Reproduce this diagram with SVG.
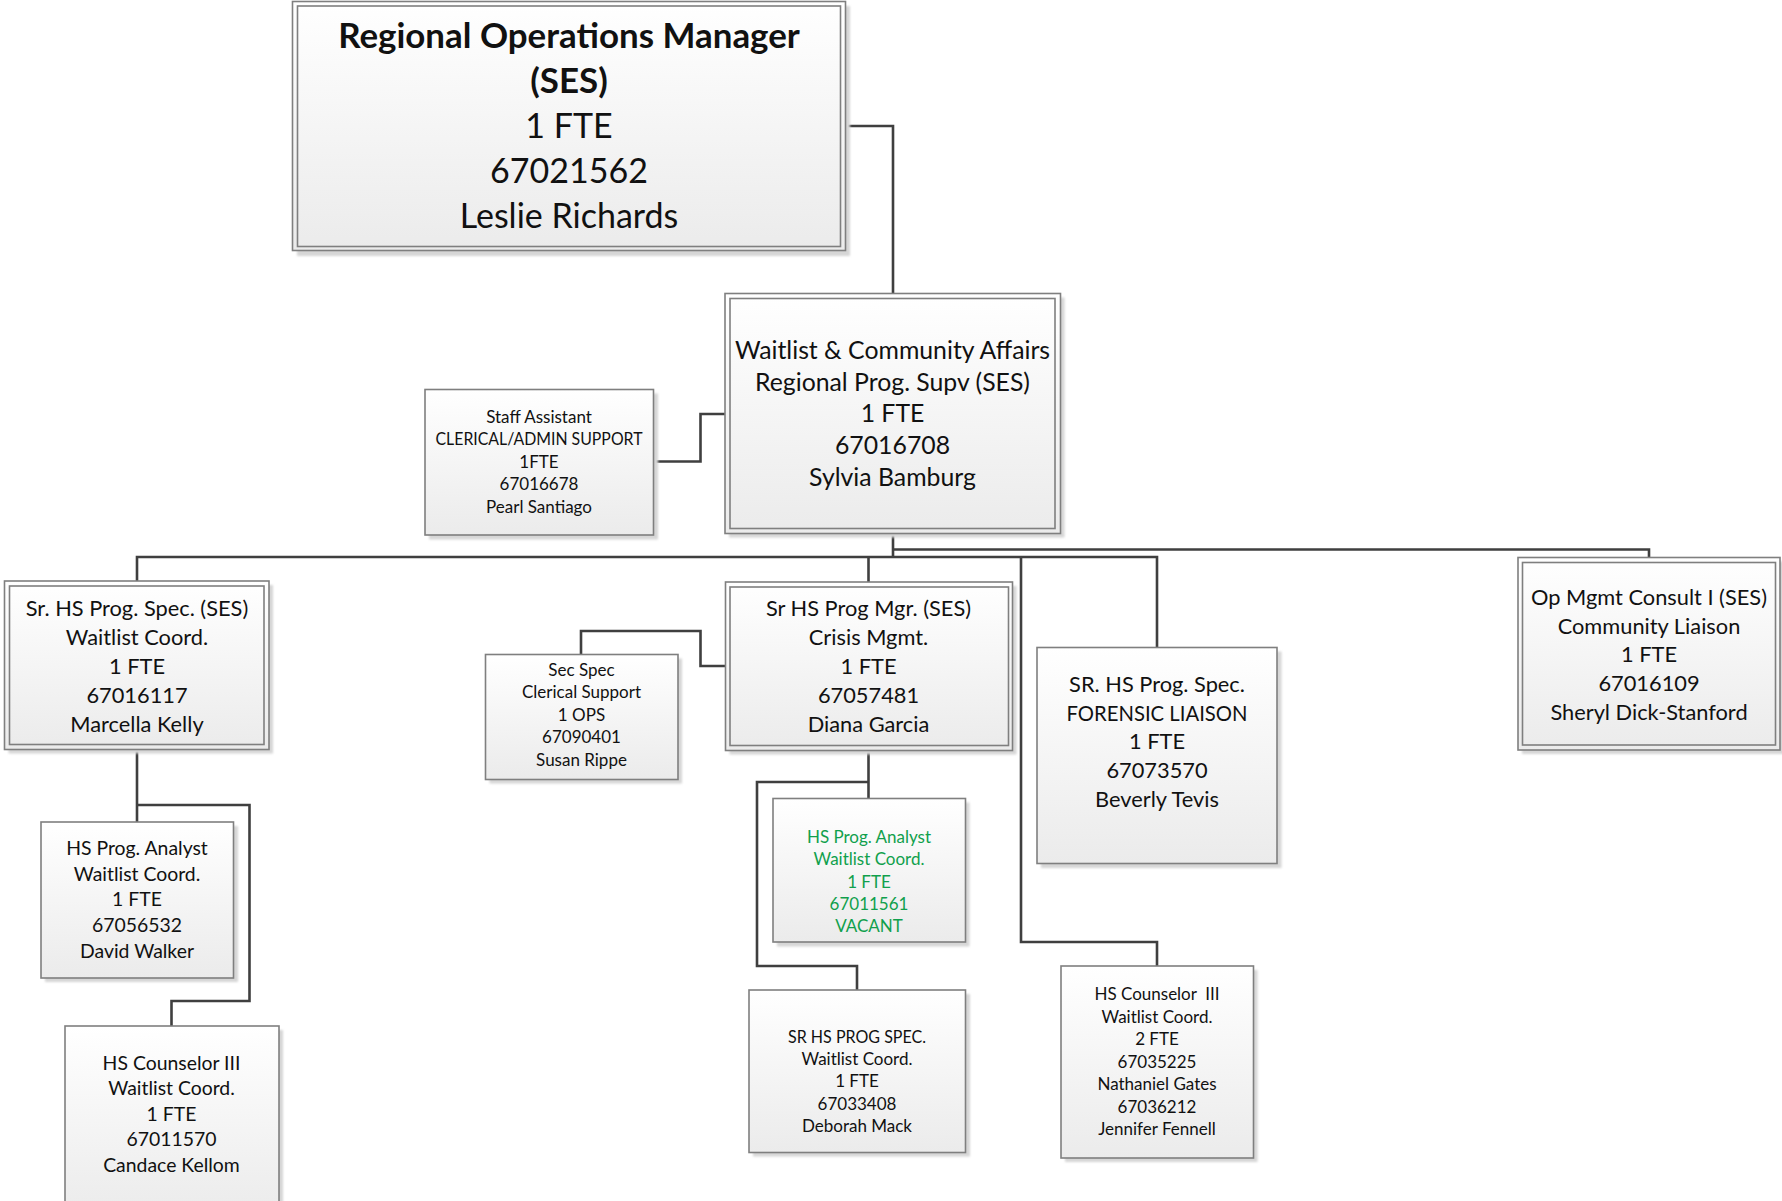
<svg xmlns="http://www.w3.org/2000/svg" width="1782" height="1201" viewBox="0 0 1782 1201">
  <defs>
    <linearGradient id="boxFill" x1="0" y1="0" x2="0" y2="1">
      <stop offset="0" stop-color="#ffffff"/>
      <stop offset="1" stop-color="#ebebeb"/>
    </linearGradient>
    <filter id="soft" x="-5%" y="-5%" width="115%" height="115%">
      <feGaussianBlur stdDeviation="1.2"/>
    </filter>
  </defs>
  <style>
    .shadow { fill: #d6d6d6; filter: url(#soft); }
    .box { fill: url(#boxFill); stroke: #7f7f7f; stroke-width: 1.6; }
    .inner { fill: none; stroke: #7f7f7f; stroke-width: 1.6; }
    .link { fill: none; stroke: #3f3f3f; stroke-width: 2.6; stroke-linejoin: miter; }
    text { font-family: Lato, "Open Sans", "Liberation Sans", sans-serif; fill: #111111; text-anchor: middle; }
    .t34 { font-size: 34px; }
    .bold { font-weight: bold; font-size: 34.9px; }
    .t24 { font-size: 24.8px; }
    .t22 { font-size: 21.8px; }
    .t19 { font-size: 19.4px; }
    .t17 { font-size: 17px; }
    .green { fill: #10a04c; }
  </style>

  <rect width="1782" height="1201" fill="#ffffff"/>

  <!-- reporting lines -->
  <g id="connectors">
    <polyline class="link" points="846,126 893,126 893,293"/>
    <polyline class="link" points="653,461.5 700.5,461.5 700.5,414 725,414"/>
    <polyline class="link" points="893,534 893,557"/>
    <polyline class="link" points="893,549.5 1649,549.5 1649,557"/>
    <polyline class="link" points="137,581 137,557 1157,557 1157,647"/>
    <polyline class="link" points="868.5,557 868.5,582"/>
    <polyline class="link" points="1021,557 1021,942 1157,942 1157,966"/>
    <polyline class="link" points="581,654 581,631 700.5,631 700.5,666 725,666"/>
    <polyline class="link" points="137,750 137,822"/>
    <polyline class="link" points="137,805 249.5,805 249.5,1001 171.5,1001 171.5,1026"/>
    <polyline class="link" points="868.5,750 868.5,798"/>
    <polyline class="link" points="868.5,782 757,782 757,966 857,966 857,990"/>
  </g>

  <!-- Regional Operations Manager -->
  <g id="node-rom">
    <rect class="shadow" x="297" y="6" width="553" height="250"/>
    <rect class="box" x="292.5" y="1.5" width="553" height="249"/>
    <rect class="inner" x="297.5" y="6" width="543" height="240.5"/>
    <text class="bold" x="569" y="48">Regional Operations Manager</text>
    <text class="bold" x="569" y="93">(SES)</text>
    <text class="t34" x="569" y="138">1 FTE</text>
    <text class="t34" x="569" y="182.5">67021562</text>
    <text class="t34" x="569" y="227.5">Leslie Richards</text>
  </g>

  <!-- Waitlist & Community Affairs supervisor -->
  <g id="node-sylvia">
    <rect class="shadow" x="729" y="297.5" width="335.5" height="240"/>
    <rect class="box" x="725" y="293.5" width="335.5" height="240"/>
    <rect class="inner" x="730" y="298.5" width="325" height="230"/>
    <text class="t24" x="892.5" y="358.5">Waitlist &amp; Community Affairs</text>
    <text class="t24" x="892.5" y="390.5">Regional Prog. Supv (SES)</text>
    <text class="t24" x="892.5" y="422.3">1 FTE</text>
    <text class="t24" x="892.5" y="454">67016708</text>
    <text class="t24" x="892.5" y="486">Sylvia Bamburg</text>
  </g>

  <!-- Staff Assistant -->
  <g id="node-staff">
    <rect class="shadow" x="429" y="393.5" width="229" height="146"/>
    <rect class="box" x="425" y="389.5" width="228.5" height="145.5"/>
    <text class="t17" x="539" y="423">Staff Assistant</text>
    <text class="t17" x="539" y="445.4" textLength="207" lengthAdjust="spacingAndGlyphs">CLERICAL/ADMIN SUPPORT</text>
    <text class="t17" x="539" y="467.8">1FTE</text>
    <text class="t17" x="539" y="490.2">67016678</text>
    <text class="t17" x="539" y="512.6">Pearl Santiago</text>
  </g>

  <!-- Sr. HS Prog. Spec. (SES) -->
  <g id="node-marcella">
    <rect class="shadow" x="8.5" y="585" width="264.5" height="168.5"/>
    <rect class="box" x="4.5" y="581" width="264.5" height="168.5"/>
    <rect class="inner" x="9.5" y="586" width="254.5" height="158.5"/>
    <text class="t22" x="137" y="616.3">Sr. HS Prog. Spec. (SES)</text>
    <text class="t22" x="137" y="645.1">Waitlist Coord.</text>
    <text class="t22" x="137" y="673.9">1 FTE</text>
    <text class="t22" x="137" y="702.7">67016117</text>
    <text class="t22" x="137" y="731.5">Marcella Kelly</text>
  </g>

  <!-- Sec Spec -->
  <g id="node-secspec">
    <rect class="shadow" x="489.5" y="658.5" width="192.5" height="125"/>
    <rect class="box" x="485.5" y="654.5" width="192.5" height="125"/>
    <text class="t17" x="581.5" y="676">Sec Spec</text>
    <text class="t17" x="581.5" y="698.4">Clerical Support</text>
    <text class="t17" x="581.5" y="720.8">1 OPS</text>
    <text class="t17" x="581.5" y="743.2">67090401</text>
    <text class="t17" x="581.5" y="765.6">Susan Rippe</text>
  </g>

  <!-- Sr HS Prog Mgr. (SES) -->
  <g id="node-diana">
    <rect class="shadow" x="729.5" y="586" width="287" height="168.5"/>
    <rect class="box" x="725.5" y="582" width="287" height="168.5"/>
    <rect class="inner" x="730" y="587" width="278.5" height="158.5"/>
    <text class="t22" x="868.5" y="616.3">Sr HS Prog Mgr. (SES)</text>
    <text class="t22" x="868.5" y="645.1">Crisis Mgmt.</text>
    <text class="t22" x="868.5" y="673.9">1 FTE</text>
    <text class="t22" x="868.5" y="702.7">67057481</text>
    <text class="t22" x="868.5" y="731.5">Diana Garcia</text>
  </g>

  <!-- SR. HS Prog. Spec. Forensic Liaison -->
  <g id="node-beverly">
    <rect class="shadow" x="1041" y="651.5" width="240.5" height="216.5"/>
    <rect class="box" x="1037" y="647.5" width="240" height="216"/>
    <text class="t22" x="1157" y="691.8">SR. HS Prog. Spec.</text>
    <text class="t22" x="1157" y="720.6" textLength="181" lengthAdjust="spacingAndGlyphs">FORENSIC LIAISON</text>
    <text class="t22" x="1157" y="749.4">1 FTE</text>
    <text class="t22" x="1157" y="778.2">67073570</text>
    <text class="t22" x="1157" y="807">Beverly Tevis</text>
  </g>

  <!-- Op Mgmt Consult I (SES) -->
  <g id="node-opmgmt">
    <rect class="shadow" x="1522" y="561.5" width="262" height="192.5"/>
    <rect class="box" x="1518" y="557.5" width="262" height="192.5"/>
    <rect class="inner" x="1522.5" y="562.5" width="253" height="182.5"/>
    <text class="t22" x="1649" y="605">Op Mgmt Consult I (SES)</text>
    <text class="t22" x="1649" y="633.7">Community Liaison</text>
    <text class="t22" x="1649" y="662.3">1 FTE</text>
    <text class="t22" x="1649" y="691">67016109</text>
    <text class="t22" x="1649" y="719.5">Sheryl Dick-Stanford</text>
  </g>

  <!-- HS Prog. Analyst (David Walker) -->
  <g id="node-david">
    <rect class="shadow" x="45" y="826" width="193" height="156"/>
    <rect class="box" x="41" y="822" width="192.5" height="156"/>
    <text class="t19" x="137" y="855.2">HS Prog. Analyst</text>
    <text class="t19" x="137" y="880.8">Waitlist Coord.</text>
    <text class="t19" x="137" y="906.4">1 FTE</text>
    <text class="t19" x="137" y="932">67056532</text>
    <text class="t19" x="137" y="957.6">David Walker</text>
  </g>

  <!-- HS Counselor III (Candace Kellom) -->
  <g id="node-candace">
    <rect class="shadow" x="69" y="1030" width="214" height="190"/>
    <rect class="box" x="65" y="1026" width="214" height="190"/>
    <text class="t19" x="171.5" y="1069.6">HS Counselor III</text>
    <text class="t19" x="171.5" y="1095.1">Waitlist Coord.</text>
    <text class="t19" x="171.5" y="1120.6">1 FTE</text>
    <text class="t19" x="171.5" y="1146.1">67011570</text>
    <text class="t19" x="171.5" y="1171.6">Candace Kellom</text>
  </g>

  <!-- HS Prog. Analyst (vacant) -->
  <g id="node-vacant">
    <rect class="shadow" x="777" y="802.5" width="192.5" height="144"/>
    <rect class="box" x="773" y="798.5" width="192.5" height="143.5"/>
    <text class="t17 green" x="869" y="842.7">HS Prog. Analyst</text>
    <text class="t17 green" x="869" y="865.1">Waitlist Coord.</text>
    <text class="t17 green" x="869" y="887.5">1 FTE</text>
    <text class="t17 green" x="869" y="909.9">67011561</text>
    <text class="t17 green" x="869" y="932.3">VACANT</text>
  </g>

  <!-- SR HS PROG SPEC. (Deborah Mack) -->
  <g id="node-deborah">
    <rect class="shadow" x="753" y="994" width="217" height="162.5"/>
    <rect class="box" x="749" y="990" width="216.5" height="162.5"/>
    <text class="t17" x="857" y="1042.7" textLength="138" lengthAdjust="spacingAndGlyphs">SR HS PROG SPEC.</text>
    <text class="t17" x="857" y="1065">Waitlist Coord.</text>
    <text class="t17" x="857" y="1087.3">1 FTE</text>
    <text class="t17" x="857" y="1109.6">67033408</text>
    <text class="t17" x="857" y="1131.9">Deborah Mack</text>
  </g>

  <!-- HS Counselor III (two positions) -->
  <g id="node-counselors">
    <rect class="shadow" x="1065" y="970" width="192.5" height="192"/>
    <rect class="box" x="1061" y="966" width="192.5" height="192"/>
    <text class="t17" x="1157" y="1000.3" xml:space="preserve">HS Counselor  III</text>
    <text class="t17" x="1157" y="1022.8">Waitlist Coord.</text>
    <text class="t17" x="1157" y="1045.3">2 FTE</text>
    <text class="t17" x="1157" y="1067.8">67035225</text>
    <text class="t17" x="1157" y="1090.3">Nathaniel Gates</text>
    <text class="t17" x="1157" y="1112.8">67036212</text>
    <text class="t17" x="1157" y="1135.3">Jennifer Fennell</text>
  </g>
</svg>
